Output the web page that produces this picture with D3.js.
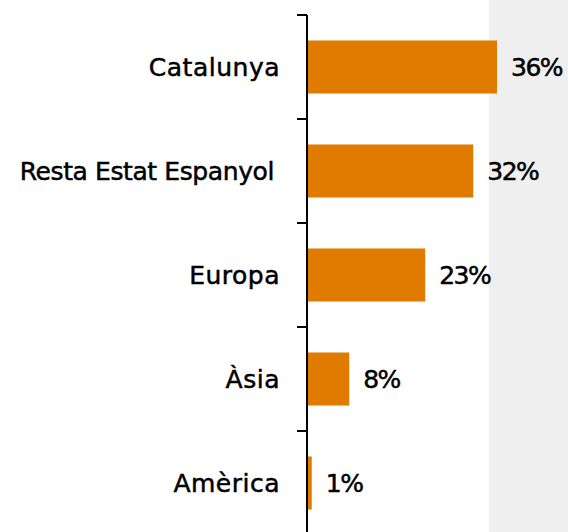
<!DOCTYPE html>
<html><head><meta charset="utf-8">
<script src="https://cdn.jsdelivr.net/npm/d3@7"></script>
<style>body{margin:0;background:#fff;} svg{display:block;}</style>
</head><body>
<svg id="c" width="568" height="532"></svg>
<script>
const categories = ["Catalunya", "Resta Estat Espanyol", "Europa", "Àsia", "Amèrica"];
const values = [36, 31.5, 22.4, 8, 0.9];
const valueLabels = ["36%", "32%", "23%", "8%", "1%"];

const svg = d3.select("#c");
const W = 568, H = 532;
const x0 = 307;
const x = d3.scaleLinear().domain([0, 36]).range([x0, 497]);
const y = d3.scaleBand().domain(categories).range([15, 535]).paddingInner(0.49).paddingOuter(0.245);
const yTicks = d3.scaleLinear().domain([0, categories.length]).range([15, 535]);

// grey background at right
svg.append("rect").attr("x", 489).attr("y", 0).attr("width", W - 489).attr("height", H).attr("fill", "#efefef");

// bars
svg.selectAll("rect.bar").data(categories).join("rect").attr("class", "bar")
  .attr("x", x(0)).attr("y", d => y(d))
  .attr("width", (d, i) => x(values[i]) - x(0))
  .attr("height", y.bandwidth())
  .attr("fill", "#e07b00");

// axis
const g = svg.append("g");
g.append("line").attr("x1", x0).attr("x2", x0).attr("y1", 15).attr("y2", H).attr("stroke", "#000").attr("stroke-width", 2);
g.selectAll("line.tick").data(d3.range(categories.length)).join("line").attr("class", "tick")
  .attr("x1", x0 - 10).attr("x2", x0).attr("y1", d => yTicks(d)).attr("y2", d => yTicks(d))
  .attr("stroke", "#000").attr("stroke-width", 2);

// category labels
svg.selectAll("text.cat").data(categories).join("text").attr("class", "cat")
  .attr("x", (d) => d === "Resta Estat Espanyol" ? 274 : 280)
  .attr("y", d => y(d) + y.bandwidth() / 2)
  .attr("dy", "0.36em").attr("text-anchor", "end")
  .attr("font-family", "DejaVu Sans").attr("font-size", 25)
  .attr("letter-spacing", d => d === "Resta Estat Espanyol" ? "-0.4px" : "0.5px")
  .attr("fill", "#000").attr("stroke", "#000").attr("stroke-width", 0.5)
  .text(d => d);

// value labels
svg.selectAll("text.val").data(categories).join("text").attr("class", "val")
  .attr("x", (d, i) => x(values[i]) + 14)
  .attr("y", d => y(d) + y.bandwidth() / 2)
  .attr("dy", "0.36em").attr("text-anchor", "start")
  .attr("font-family", "DejaVu Sans").attr("font-size", 25).attr("letter-spacing", "-1.5px")
  .attr("fill", "#000").attr("stroke", "#000").attr("stroke-width", 0.5)
  .text((d, i) => valueLabels[i]);
</script>
</body></html>
